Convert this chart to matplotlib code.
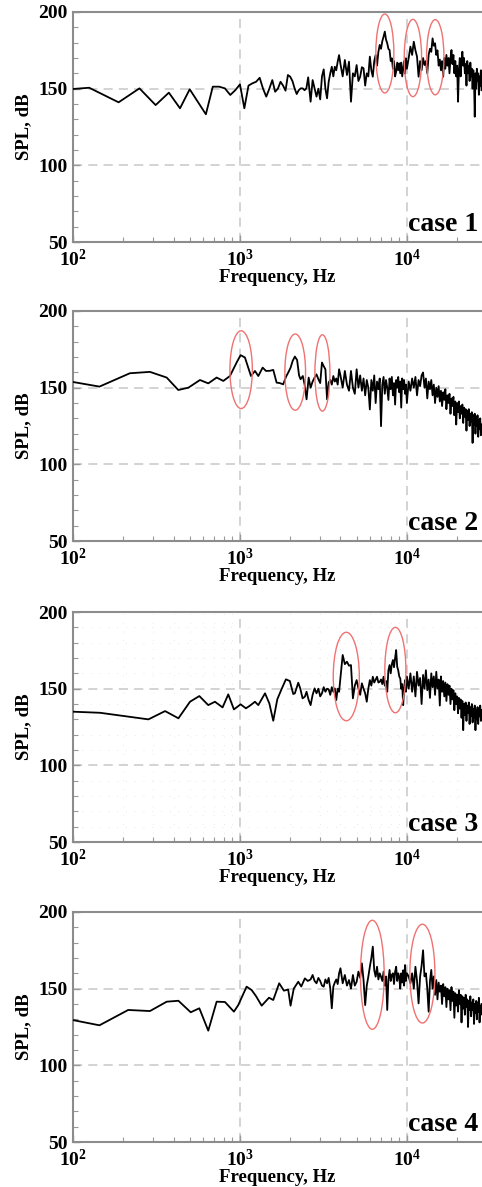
import numpy as np
import matplotlib
matplotlib.use('Agg')
import matplotlib.pyplot as plt
from matplotlib.patches import Ellipse
from matplotlib.ticker import FixedLocator, NullFormatter

plt.rcParams['font.family'] = ['Liberation Serif', 'DejaVu Serif']
plt.rcParams['font.weight'] = 'bold'
plt.rcParams['mathtext.fontset'] = 'custom'
plt.rcParams['mathtext.rm'] = 'Liberation Serif:bold'
plt.rcParams['mathtext.it'] = 'Liberation Serif:bold'
plt.rcParams['mathtext.bf'] = 'Liberation Serif:bold'

# ---------- data ----------
# shared high-frequency grid [Hz]
freq_hi = [2650, 2725, 2800, 2875, 2950, 3025, 3100, 3175, 3250, 3325, 3400, 3475, 3550, 3625,
           3700, 3775, 3850, 3925, 4000,
           4125, 4250, 4375, 4500, 4625, 4750, 4875, 5000, 5125, 5250, 5375, 5500, 5625, 5750,
           5875, 6000, 6125, 6250, 6375, 6500, 6625, 6750, 6875, 7000, 7125, 7250, 7375, 7500,
           7625, 7750, 7875, 8000, 8125, 8250, 8375, 8500, 8625, 8750, 8875, 9000, 9125, 9250,
           9375, 9500, 9625, 9750, 9875, 10000,
           10250, 10500, 10750, 11000, 11250, 11500, 11750, 12000, 12250, 12500, 12750, 13000,
           13250, 13500, 13750, 14000, 14250, 14500, 14750, 15000, 15250, 15500, 15750, 16000,
           16250, 16500, 16750, 17000, 17250, 17500, 17750, 18000, 18250, 18500, 18750, 19000,
           19250, 19500, 19750, 20000, 20250, 20500, 20750, 21000, 21250, 21500, 21750, 22000,
           22250, 22500, 22750, 23000, 23250, 23500, 23750, 24000, 24250, 24500, 24750, 25000,
           25250, 25500, 25750, 26000, 26250, 26500, 26750, 27000, 27250, 27500, 27750, 28000]

# case 1
freq_lo_1 = [100, 125, 187.5, 250, 312.5, 375, 437.5, 500, 625, 687.5, 750, 812.5, 875, 937.5,
             1000, 1062.5, 1125, 1187.5, 1250, 1312.5, 1375, 1437.5, 1500, 1562.5, 1625, 1687.5,
             1750, 1812.5, 1875, 1937.5, 2000, 2062.5, 2125, 2187.5, 2250, 2312.5, 2375, 2437.5,
             2500, 2562.5]
spl_lo_1 = [149.8, 150.6, 141.1, 150.2, 139.3, 147.4, 137.2, 149.6, 133.3, 151.3, 151.3, 150.2,
            145.9, 149.0, 152.8, 137.2, 152.0, 153.5, 154.5, 157.1, 150.0, 144.8, 150.0, 155.6,
            148.0, 150.0, 154.5, 152.0, 148.7, 158.9, 157.8, 155.0, 150.2, 146.5, 149.0, 150.2,
            150.2, 149.0, 150.2, 157.4]
spl_hi_1 = [141.5, 155.6, 150, 144.8, 150, 143, 158, 162.6, 150, 143.7, 154.5, 160, 164.3, 158,
             164.3, 162, 167.6, 171.9, 166,
             158, 168.7, 158.9, 167.6, 141.5, 160, 158, 165.4, 155, 157.8, 164, 163.3, 152, 160,
             158, 170.9, 162, 157.8, 168, 171.9, 165, 174, 178.5, 176, 181, 183.9, 187.2, 182,
             179.6, 176, 175.2, 168, 169.8, 163, 168, 158, 161.1, 167, 162, 166.5, 160, 167,
             158, 163.3, 168, 160, 169.8, 163,
             170, 177.4, 172, 180.6, 175, 170.9, 157.8, 168, 162, 170, 165.4, 168,
             160, 172, 176, 174, 182.8, 178, 179.6, 172, 175, 165, 169, 162,
             168, 157.8, 170, 163, 172, 165, 170, 160, 170, 175.2, 166, 172,
             160, 168, 158, 165, 141.5, 162, 170, 158, 168, 174.1, 165, 170,
             160, 166, 152, 168, 160, 165, 155, 167, 158, 163, 150, 162,
             155, 131.7, 160, 150, 163, 155, 160, 146, 158, 152, 162, 149]

# case 2
freq_lo_2 = [100, 144, 219, 289, 364, 427, 491, 576, 646, 725, 795, 871, 955, 1009, 1071, 1164,
             1230, 1288, 1368, 1432, 1510, 1583, 1658, 1730, 1816, 1885, 1947, 2010, 2070, 2133,
             2200, 2260, 2307, 2380, 2440, 2506, 2580]
spl_lo_2 = [153.7, 150.7, 159.4, 160.3, 156.6, 148.5, 150.0, 155.0, 152.8, 156.6, 154.4, 157.6,
            166.4, 171.2, 169.7, 157.6, 160.9, 157.6, 163.1, 160.9, 161.0, 161.6, 153.3, 153.0,
            152.2, 157.0, 159.9, 163.0, 167.5, 170.3, 168.0, 158.0, 155.5, 157.6, 152.0, 142.4,
            156.6]
spl_hi_2 = [150, 154, 156.6, 158.7, 155.5, 153, 166.4, 164, 162, 142.4, 153.3, 155, 152, 157.6,
            154, 156, 152, 162, 158,
            150, 160.9, 152, 148, 160.9, 150, 146, 162, 150, 158, 148, 156, 145, 155,
            150, 135.8, 155, 148, 158, 140, 154, 149, 156, 124.9, 152, 157, 146, 155,
            150, 142, 156, 149, 157, 145, 153, 139, 155, 150, 157, 147, 154, 137,
            156, 149, 155, 146, 152, 140,
            154, 148, 156, 150, 157, 145, 155, 151, 158, 159.9, 150, 156,
            143, 154, 149, 155, 145, 152, 140, 150, 144, 151, 141, 148,
            138, 147, 142, 149, 136, 145, 140, 146, 133, 143, 138, 144,
            132, 141, 126, 140, 134, 141, 130, 138, 133, 139, 127, 137,
            131, 136, 122, 135, 129, 136, 125, 133, 128, 134, 114, 132,
            126, 133, 120, 131, 125, 132, 118, 129, 123, 130, 119, 126]

# case 3
freq_lo_3 = [100, 145, 283, 356, 428, 502, 571, 646, 708, 787, 851, 920, 1009, 1086, 1150, 1230,
             1288, 1413, 1500, 1583, 1674, 1780, 1885, 1990, 2086, 2133, 2235, 2300, 2372, 2448,
             2506, 2580]
spl_lo_3 = [135.0, 134.3, 130.0, 135.4, 130.7, 141.5, 145.2, 139.3, 141.5, 137.8, 146.3, 136.5,
            139.8, 137.2, 139.0, 141.5, 139.3, 147.0, 140.4, 129.1, 143.1, 150.0, 156.1, 155.0,
            146.5, 147.0, 153.9, 150.0, 143.7, 144.8, 148.0, 142.6]
spl_hi_3 = [139.3, 146, 150.2, 147, 150, 145, 147, 151, 148, 150, 149.6, 146, 151, 148,
            150.2, 142.6, 150, 148, 157,
            172, 166, 167.6, 165, 165.4, 143.7, 152, 155.6, 150.2, 146, 153.5, 150, 147, 141.5,
            150, 155.6, 152, 157.8, 154, 156, 157.8, 154, 154.5, 156, 153, 157.8, 152, 155,
            148, 162, 165.4, 160, 166, 168.7, 164, 170, 175.2, 164.3, 162, 158, 156.7, 150,
            153, 139.3, 150, 155.6, 148, 158,
            150, 160, 148, 158, 145, 161, 152, 157, 140, 159, 150, 162,
            149, 156, 144, 160, 151, 158, 146, 161, 150, 156, 139, 158,
            148, 155, 145, 154, 142, 153, 146, 152, 140, 150, 143, 149,
            136, 147, 140, 145, 134, 144, 137, 143, 131, 142, 123, 140,
            133, 141, 129, 139, 134, 141, 127, 138, 132, 140, 128, 137,
            131, 139, 123, 136, 130, 138, 127, 137, 132, 139, 129, 136]

# case 4
freq_lo_4 = [100, 144, 214, 289, 364, 428, 507, 571, 646, 725, 813, 920, 977, 1096, 1175, 1250,
             1349, 1493, 1583, 1718, 1833, 1945, 2010, 2100, 2235, 2330, 2448, 2550]
spl_lo_4 = [129.5, 126.1, 136.1, 135.4, 141.5, 142.1, 134.6, 137.2, 122.6, 141.5, 141.3, 135.0,
            139.3, 151.3, 149.1, 145.0, 138.9, 144.1, 142.6, 153.5, 148.7, 149.4, 138.9, 150.0,
            154.5, 151.4, 156.7, 155.0]
spl_hi_4 = [156, 158.9, 155, 153.5, 157, 155, 152, 151.3, 156, 153.5, 157, 150.2, 137.2, 151.3,
            154, 156, 153, 160, 163.3,
            153.5, 158.9, 152, 155.6, 150, 158.9, 152, 154.5, 161.1, 157, 166.5, 155.6, 139.3, 152,
            157.8, 164.3, 170, 177.4, 162, 157.8, 164.3, 156, 160, 157.8, 155, 161.1, 152, 158,
            136.1, 156, 162.2, 155, 159, 160, 153, 161, 164.3, 155, 160, 157.8, 150, 160,
            154, 162, 152, 165.4, 155, 160,
            158, 153.5, 160, 150, 164.3, 155, 140.4, 157.8, 165, 175, 158, 160,
            150, 135, 155, 162.2, 150, 158, 146, 155.6, 143, 154, 148, 152,
            140, 153, 145, 151, 138, 150, 143, 149, 136, 151, 142, 148,
            131, 147, 139, 146, 135, 149, 140, 146, 128, 145, 137, 144,
            133, 146, 138, 143, 125, 142, 136, 145, 132, 141, 136, 143,
            127, 140, 134, 142, 130, 141, 135, 144, 128, 139, 133, 140]

# highlighted peaks: (f_low, f_high, spl_low, spl_high)
ellipses_1 = [(6516, 8356, 147.2, 198.7), (9640, 12250, 144.8, 195.2), (13120, 16670, 146.0, 195.0)]
ellipses_2 = [(871, 1186, 136.4, 187.1), (1858, 2472, 135.3, 185.0), (2812, 3459, 134.7, 184.5)]
ellipses_3 = [(3622, 5188, 129.1, 186.8), (7379, 9863, 134.3, 190.0)]
ellipses_4 = [(5272, 7311, 123.5, 194.6), (10420, 14720, 127.6, 192.0)]

case_labels = ['case 1', 'case 2', 'case 3', 'case 4']
x_ticks = [1e2, 1e3, 1e4]
x_ticklabels = [r'$10^{2}$', r'$10^{3}$', r'$10^{4}$']
y_ticks = [50, 100, 150, 200]

# panel bottoms in figure fraction
panel_bottoms = [0.7961, 0.5442, 0.2906, 0.0379]


def draw_panel(ax, freq, spl, ellipses, label, minor_grid=False):
    ax.plot(freq, spl, color='black', linewidth=1.3, zorder=3)
    ax.set_xscale('log')
    ax.set_xlim(100, 10 ** 4.45)
    ax.set_ylim(50, 200)

    ax.xaxis.set_major_locator(FixedLocator(x_ticks))
    ax.set_xticklabels(x_ticklabels)
    minors = [m * d for d in (1e2, 1e3, 1e4) for m in range(2, 10)]
    ax.xaxis.set_minor_locator(FixedLocator(minors))
    ax.xaxis.set_minor_formatter(NullFormatter())
    ax.set_yticks(y_ticks)
    ax.yaxis.set_minor_locator(FixedLocator(range(60, 200, 10)))

    ax.tick_params(which='both', direction='in', color='#999999', labelsize=14, pad=4)
    ax.tick_params(which='major', length=5, width=1)
    ax.tick_params(which='minor', length=3.5, width=0.8)
    ax.tick_params(axis='x', pad=5)
    for lab in ax.get_yticklabels():
        lab.set_fontweight('bold')

    ax.grid(True, which='major', color='#c8c8c8', linestyle=(0, (6, 4)), linewidth=1.1)
    if minor_grid:
        ax.grid(True, which='minor', color='#e8e8e8', linestyle=(0, (1, 8)), linewidth=0.7)

    for side in ('left', 'bottom', 'top'):
        ax.spines[side].set_color('#8c8c8c')
        ax.spines[side].set_linewidth(1.5)
    ax.spines['right'].set_visible(False)

    ax.set_xlabel('Frequency, Hz', fontsize=13.5, fontweight='bold', labelpad=-1)
    ax.set_ylabel('SPL, dB', fontsize=13.5, fontweight='bold', labelpad=4)

    ax.text(0.82, 0.05, label, transform=ax.transAxes, fontsize=20,
            fontweight='bold', ha='left', va='baseline')

    # ellipses drawn in axes coordinates so they stay round on log axis
    to_axes = ax.transData + ax.transAxes.inverted()
    for f0, f1, s0, s1 in ellipses:
        (x0, y0), (x1, y1) = to_axes.transform([(f0, s0), (f1, s1)])
        e = Ellipse(((x0 + x1) / 2, (y0 + y1) / 2), x1 - x0, y1 - y0,
                    transform=ax.transAxes, fill=False, edgecolor='#f07272',
                    linewidth=1.0, zorder=4, clip_on=False)
        ax.add_patch(e)


def main():
    fig = plt.figure(figsize=(4.82, 11.87), dpi=100)

    panels = [
        (freq_lo_1 + freq_hi, spl_lo_1 + spl_hi_1, ellipses_1),
        (freq_lo_2 + freq_hi, spl_lo_2 + spl_hi_2, ellipses_2),
        (freq_lo_3 + freq_hi, spl_lo_3 + spl_hi_3, ellipses_3),
        (freq_lo_4 + freq_hi, spl_lo_4 + spl_hi_4, ellipses_4),
    ]

    for i, (freq, spl, ells) in enumerate(panels):
        ax = fig.add_axes([0.1515, panel_bottoms[i], 0.8485, 0.1938])
        draw_panel(ax, freq, spl, ells, case_labels[i], minor_grid=(i == 2))

    fig.savefig('out.png', dpi=100)


if __name__ == '__main__':
    main()
